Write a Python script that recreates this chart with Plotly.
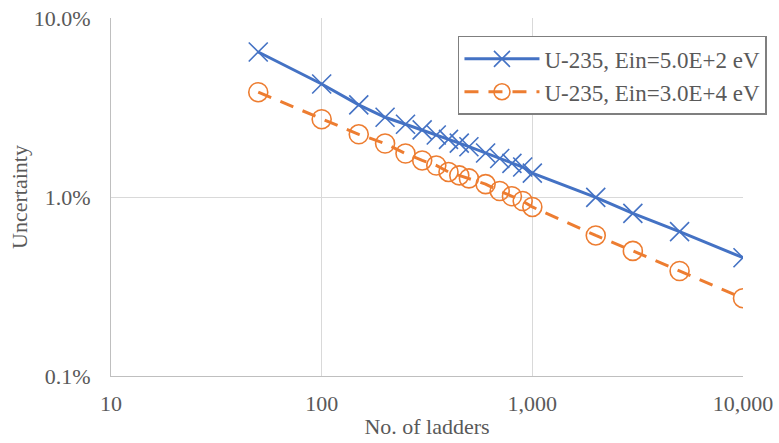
import plotly.graph_objects as go

# Number of ladders sampled
ladders = [50, 100, 150, 200, 250, 300, 350, 400, 450, 500,
           600, 700, 800, 900, 1000, 2000, 3000, 5000, 10000]

# Relative uncertainty (fraction) for each incident energy
unc_500eV = [0.0646, 0.0428, 0.0327, 0.0279, 0.0255, 0.0237, 0.0222, 0.0210, 0.0200, 0.0191,
             0.0176, 0.0164, 0.0154, 0.0147, 0.0136, 0.00995, 0.0081, 0.0064, 0.00458]
unc_30keV = [0.0385, 0.0272, 0.0224, 0.0199, 0.0175, 0.0160, 0.0150, 0.0138, 0.0132, 0.0127,
             0.0118, 0.0108, 0.0101, 0.0095, 0.0088, 0.0061, 0.0050, 0.00386, 0.00272]

x_tickvals = [10, 100, 1000, 10000]
x_ticktext = ["10", "100", "1,000", "10,000"]
y_tickvals = [0.001, 0.01, 0.1]
y_ticktext = ["0.1%", "1.0%", "10.0%"]

BLUE = "#4472C4"
ORANGE = "#ED7D31"
TEXT = "#595959"
FONT = "'Liberation Serif', 'Times New Roman', Times, serif"

fig = go.Figure()
fig.add_trace(go.Scatter(
    x=ladders, y=unc_500eV, mode="lines+markers",
    name="U-235, Ein=5.0E+2 eV",
    line=dict(color=BLUE, width=3),
    marker=dict(symbol="x-thin", size=19, line=dict(color=BLUE, width=1.6)),
))
fig.add_trace(go.Scatter(
    x=ladders, y=unc_30keV, mode="lines+markers",
    name="U-235, Ein=3.0E+4 eV",
    line=dict(color=ORANGE, width=3, dash="14px,10px"),
    marker=dict(symbol="circle-open", size=19, color=ORANGE, line=dict(color=ORANGE, width=1.6)),
))

fig.update_layout(
    width=779, height=443,
    margin=dict(l=111, r=36, t=18, b=67, autoexpand=False),
    paper_bgcolor="white", plot_bgcolor="white",
    font=dict(family=FONT, color=TEXT, size=22),
    legend=dict(
        x=0.549, y=0.95, xanchor="left", yanchor="top",
        bgcolor="white", bordercolor="#7f7f7f", borderwidth=1.5,
        font=dict(family=FONT, size=23, color=TEXT),
        tracegroupgap=0, itemwidth=75,
    ),
    showlegend=True,
)
fig.update_xaxes(
    type="log", range=[1, 4],
    tickvals=x_tickvals, ticktext=x_ticktext,
    showgrid=True, gridcolor="#d9d9d9", gridwidth=1,
    showline=True, linecolor="#bfbfbf", linewidth=1,
    ticks="", zeroline=False, ticklabelstandoff=8,
    title=dict(text="No. of ladders", font=dict(family=FONT, size=22, color=TEXT), standoff=3),
)
fig.update_yaxes(
    type="log", range=[-3, -1],
    tickvals=y_tickvals, ticktext=y_ticktext,
    showgrid=True, gridcolor="#d9d9d9", gridwidth=1,
    showline=True, linecolor="#bfbfbf", linewidth=1,
    ticks="", zeroline=False, ticklabelstandoff=15,
    title=dict(text="Uncertainty", font=dict(family=FONT, size=22, color=TEXT), standoff=0),
)

fig.write_html("out.html")
